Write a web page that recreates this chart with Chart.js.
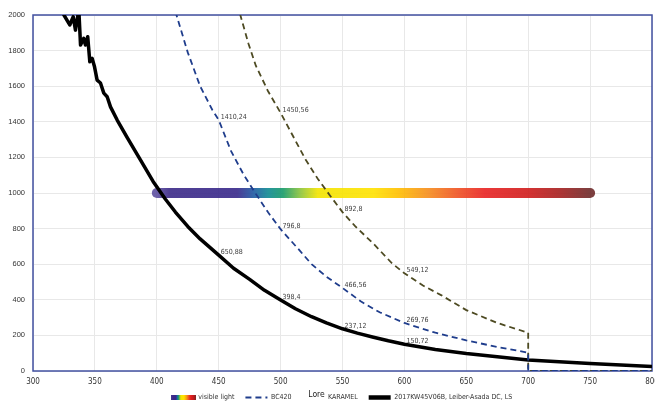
<!DOCTYPE html>
<html>
<head>
<meta charset="utf-8">
<script src="https://cdn.jsdelivr.net/npm/chart.js@4/dist/chart.umd.min.js"></script>
<style>
  html,body{margin:0;padding:0;background:#fff}
</style>
</head>
<body>
<canvas id="c" width="655" height="402"></canvas>
<script>
// series (x = wavelength in nm)
const visibleX = [400, 750];
const visibleY = [1000, 1000];

const bcX = [415, 425, 435, 445, 450, 460, 470, 480, 490, 500, 515, 525, 537, 550, 565, 580, 600, 625, 650, 675, 700, 700, 800];
const bcY = [2020, 1790, 1600, 1465, 1410.24, 1235, 1105, 995, 890, 796.8, 680, 600, 530, 466.56, 390, 330, 269.76, 215, 172, 135, 103, 0, 0];

const karX = [465, 474, 480, 490, 500, 510, 520, 530, 540, 550, 560, 575, 590, 600, 615, 630, 650, 675, 700, 700, 800];
const karY = [2060, 1840, 1715, 1570, 1450.56, 1320, 1190, 1080, 985, 892.8, 815, 715, 605, 549.12, 480, 425, 342, 270, 215, 0, 0];

const lsX = [322, 325, 329.7, 332.5, 334.3, 337, 338.4, 341, 342.4, 344.2, 345.9, 347.8, 349.7, 351.8, 354.5, 357.2, 359.9, 362.6, 368, 376, 387, 397, 407, 415, 425, 435, 450, 462, 475, 487, 500, 512, 525, 537, 550, 562, 575, 587, 600, 625, 650, 700, 750, 800];
const lsY = [2080, 2000, 1944, 1990, 1915, 2030, 1831, 1869, 1831, 1878, 1737, 1756, 1709, 1634, 1618, 1561, 1541, 1484, 1410, 1312, 1183, 1065, 965, 893, 812, 742, 650.88, 577, 515, 453, 398.4, 350, 305, 270, 237.12, 213, 190, 170, 150.72, 121, 98, 62, 42, 25];

// x positions that carry a value label
const bcLabelAt = [450, 500, 550, 600];
const karLabelAt = [500, 550, 600];
const lsLabelAt = [450, 500, 550, 600];

const seriesNames = ['visible light', 'BC420', 'KARAMEL', '2017KW45V06B, Leiber-Asada DC, LS'];

const spectrum = [
  [400, '#5e50a0'], [410, '#3c2a88'], [465, '#38288a'], [478, '#1d58a2'], [490, '#0f8a92'],
  [502, '#169a68'], [516, '#8cc43a'], [530, '#f2e400'], [575, '#ffe200'], [595, '#ffbf00'],
  [620, '#f58a1c'], [645, '#ee4c22'], [665, '#e82222'], [700, '#cf1c1c'], [725, '#a61f1f'], [750, '#6e2a2a']
];

// pick a condensed face if one is installed, else plain sans
function pickFont(cands, fallback){
  const c = document.createElement('canvas').getContext('2d');
  const probe = '2017KW45V06B, Leiber-Asada DC';
  c.font = '10px monospace';
  const base = c.measureText(probe).width;
  for(const f of cands){
    c.font = '10px "' + f + '", monospace';
    if(c.measureText(probe).width !== base) return '"' + f + '", ' + fallback;
  }
  return fallback;
}
const FONT = pickFont(['Liberation Sans Narrow', 'DejaVu Sans Condensed', 'Arial Narrow'], '"Liberation Sans", sans-serif');
const SMALL = 7;

const toXY = (xs, ys) => xs.map((x, i) => ({x, y: ys[i]}));

function spectrumGradient(ctx, x0, x1, alpha){
  const g = ctx.createLinearGradient(x0, 0, x1, 0);
  spectrum.forEach(([nm, c]) => g.addColorStop((nm - 400) / 350, c + alpha));
  return g;
}

let barGrad = null, barKey = '';
function barColor(context){
  const chart = context.chart;
  if(!chart.chartArea) return '#3a2a88';
  const x0 = chart.scales.x.getPixelForValue(visibleX[0]);
  const x1 = chart.scales.x.getPixelForValue(visibleX[visibleX.length - 1]);
  const key = x0 + ':' + x1;
  if(key !== barKey){ barGrad = spectrumGradient(chart.ctx, x0, x1, 'e6'); barKey = key; }
  return barGrad;
}

// little rainbow swatch for the legend
const swatch = document.createElement('canvas');
swatch.width = 25; swatch.height = 5;
(function(){
  const sctx = swatch.getContext('2d');
  sctx.fillStyle = spectrumGradient(sctx, 0, 25, 'ff');
  sctx.fillRect(0, 0, 25, 5);
})();

const datasets = [
  { label: seriesNames[0], data: toXY(visibleX, visibleY), borderColor: barColor, borderWidth: 10,
    borderCapStyle: 'round', order: 4, legendStyle: swatch, legendColor: '#3a2a88', legendWidth: 5 },
  { label: seriesNames[1], data: toXY(bcX, bcY), borderColor: '#1f3d8c', borderWidth: 1.8, borderDash: [6, 4],
    order: 1, labelAt: bcLabelAt, legendColor: '#1f3d8c', legendWidth: 2 },
  { label: seriesNames[2], data: toXY(karX, karY), borderColor: '#4d4a22', borderWidth: 1.8, borderDash: [6, 4],
    order: 2, labelAt: karLabelAt, legendColor: '#4d4a22', legendWidth: 2 },
  { label: seriesNames[3], data: toXY(lsX, lsY), borderColor: '#000000', borderWidth: 3.5,
    borderJoinStyle: 'round', order: 3, labelAt: lsLabelAt, legendColor: '#000000', legendWidth: 4.5 }
];

const frame = {
  id: 'frame',
  beforeDatasetsDraw(chart){
    const {ctx, chartArea: a} = chart;
    ctx.save();
    ctx.strokeStyle = '#4150a0'; ctx.lineWidth = 1.5;
    ctx.strokeRect(a.left, a.top, a.right - a.left, a.bottom - a.top);
    ctx.restore();
  }
};

const valueLabels = {
  id: 'valueLabels',
  afterDatasetsDraw(chart){
    const ctx = chart.ctx;
    ctx.save();
    ctx.font = SMALL + 'px ' + FONT; ctx.fillStyle = '#404040';
    ctx.textAlign = 'left'; ctx.textBaseline = 'middle';
    chart.data.datasets.forEach((ds, i) => {
      if(!ds.labelAt) return;
      const meta = chart.getDatasetMeta(i);
      ds.data.forEach((p, j) => {
        if(!ds.labelAt.includes(p.x) || p.y === 0) return;
        const el = meta.data[j];
        ctx.fillText(String(p.y).replace('.', ','), el.x + 2, el.y - 3);
      });
    });
    ctx.restore();
  }
};

// legend row sits a little higher than the layout would put it
const legendShift = {
  id: 'legendShift',
  afterLayout(chart){
    const l = chart.legend;
    if(l){ l.top -= 4; l.bottom = chart.height; }
  }
};

// the axis title sits on the legend row and hides the KARAMEL swatch
const axisTitle = {
  id: 'axisTitle',
  afterDraw(chart){
    const box = chart.legend && chart.legend.legendHitBoxes && chart.legend.legendHitBoxes[2];
    if(!box) return;
    const ctx = chart.ctx;
    const cx = box.left + 14, cy = box.top + 1;
    ctx.save();
    ctx.fillStyle = '#fff';
    ctx.fillRect(box.left - 2, box.top - 6, 26, 16);
    ctx.font = '8.5px ' + FONT; ctx.fillStyle = '#222';
    ctx.textAlign = 'center'; ctx.textBaseline = 'middle';
    ctx.fillText('Lore', cx, cy);
    ctx.restore();
  }
};

new Chart(document.getElementById('c'), {
  type: 'line',
  data: { datasets },
  plugins: [frame, valueLabels, legendShift, axisTitle],
  options: {
    responsive: false,
    animation: false,
    layout: { padding: { top: 15, right: 3, bottom: 0, left: 0 } },
    elements: { point: { radius: 0, hoverRadius: 0 }, line: { tension: 0, fill: false } },
    plugins: {
      tooltip: { enabled: false },
      legend: {
        position: 'bottom',
        fullSize: false,
        maxHeight: 15,
        labels: {
          usePointStyle: true,
          pointStyleWidth: 22,
          padding: 11,
          color: '#333',
          font: { family: FONT, size: SMALL },
          generateLabels: (chart) => chart.data.datasets.map((ds, i) => ({
            text: ds.label,
            datasetIndex: i,
            pointStyle: ds.legendStyle || 'line',
            strokeStyle: ds.legendColor,
            fillStyle: ds.legendColor,
            lineWidth: ds.legendWidth,
            lineDash: ds.borderDash || [],
            lineCap: 'butt',
            fontColor: '#333',
            hidden: false
          }))
        }
      }
    },
    scales: {
      x: {
        type: 'linear', min: 300, max: 800,
        ticks: { stepSize: 50, padding: 6, color: '#333', font: { family: FONT, size: 8 } },
        grid: { color: '#e8e8e8', drawTicks: false },
        border: { display: false },
        afterFit: (scale) => { scale.paddingRight = 0; scale.height = 16; }
      },
      y: {
        min: 0, max: 2000,
        ticks: { stepSize: 200, padding: 8, color: '#333', callback: (v) => String(v),
          font: { family: '"Liberation Sans", sans-serif', size: 7.5 } },
        grid: { color: '#e8e8e8', drawTicks: false },
        border: { display: false },
        afterFit: (scale) => { scale.width = 33; }
      }
    }
  }
});
</script>
</body>
</html>
